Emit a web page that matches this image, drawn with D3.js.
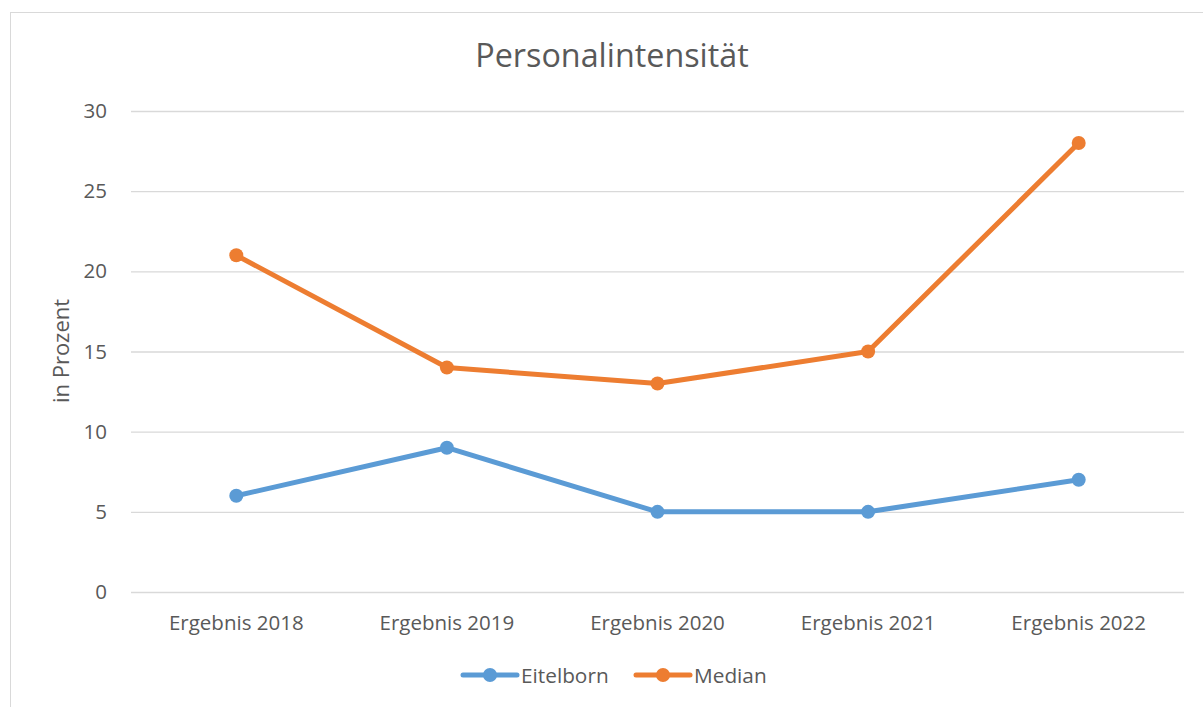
<!DOCTYPE html>
<html><head><meta charset="utf-8">
<script src="https://cdn.jsdelivr.net/npm/d3@7"></script>
<style>body{margin:0;background:#fff}svg{display:block}text{font-family:"Open Sans",sans-serif;fill:#595959}</style>
</head><body><svg id="c" width="1203" height="707"></svg>
<script>
const categories = ["Ergebnis 2018","Ergebnis 2019","Ergebnis 2020","Ergebnis 2021","Ergebnis 2022"];
const eitelborn = [6, 9, 5, 5, 7];
const median = [21, 14, 13, 15, 28];
const yTicks = [0, 5, 10, 15, 20, 25, 30];
const seriesNames = ["Eitelborn", "Median"];
const colors = ["#5B9BD5", "#ED7D31"];
const title = "Personalintensität";
const yTitle = "in Prozent";

const svg = d3.select("#c");
svg.append("rect").attr("x",10.5).attr("y",12.5).attr("width",1300).attr("height",800)
  .attr("fill","#fff").attr("stroke","#D9D9D9").attr("stroke-width",1);

const L=131, R=1184, T=111, B=592;
const x = d3.scaleBand().domain(categories).range([L,R]).padding(0);
const y = d3.scaleLinear().domain([0,30]).range([B,T]);

const gy = svg.append("g").attr("transform",`translate(${L},0)`)
  .call(d3.axisLeft(y).tickValues(yTicks).tickSize(-(R-L)).tickPadding(24).tickFormat(d3.format("d")));
gy.select(".domain").remove();
gy.selectAll(".tick line").attr("stroke","#D9D9D9").attr("stroke-width",1.3);
gy.selectAll(".tick text").style("font-size","20.5px").attr("fill","#595959");

const gx = svg.append("g").attr("transform",`translate(0,${B})`)
  .call(d3.axisBottom(x).tickSize(0).tickPadding(23));
gx.select(".domain").remove();
gx.selectAll(".tick text").style("font-size","20.5px").attr("fill","#595959");

const line = d3.line().x((d,i)=>x(categories[i])+x.bandwidth()/2).y(d=>y(d));
[eitelborn, median].forEach((s,k)=>{
  svg.append("path").datum(s).attr("d",line).attr("fill","none")
    .attr("stroke",colors[k]).attr("stroke-width",5).attr("stroke-linejoin","round").attr("stroke-linecap","round");
  svg.selectAll(null).data(s).enter().append("circle")
    .attr("cx",(d,i)=>x(categories[i])+x.bandwidth()/2).attr("cy",d=>y(d)).attr("r",7).attr("fill",colors[k]);
});

svg.append("text").attr("x",612).attr("y",67).attr("text-anchor","middle").style("font-size","32.3px").text(title);
svg.append("text").attr("transform","translate(69,351) rotate(-90)").attr("text-anchor","middle").style("font-size","22px").text(yTitle);

const legX = [463, 636];
seriesNames.forEach((n,k)=>{
  const g = svg.append("g").attr("transform",`translate(${legX[k]},675)`);
  g.append("line").attr("x1",0).attr("x2",54).attr("stroke",colors[k]).attr("stroke-width",5).attr("stroke-linecap","round");
  g.append("circle").attr("cx",27).attr("r",7).attr("fill",colors[k]);
  g.append("text").attr("x",58).attr("y",7.5).style("font-size","20.8px").text(n);
});
</script></body></html>
